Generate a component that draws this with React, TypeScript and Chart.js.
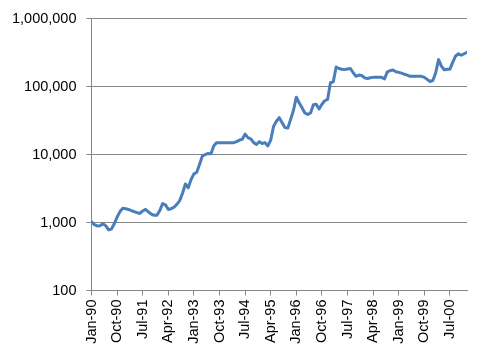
import React, { useEffect, useRef } from "react";
import { Chart, registerables } from "chart.js";

Chart.register(...registerables);

const MONTHS = ["Jan", "Feb", "Mar", "Apr", "May", "Jun", "Jul", "Aug", "Sep", "Oct", "Nov", "Dec"];
const START_YEAR = 1990;

const values: number[] = [
  1030, 930, 890, 900, 960, 900, 780, 800, 960, 1200, 1450, 1620,
  1600, 1560, 1500, 1450, 1400, 1360, 1480, 1560, 1440, 1330, 1280, 1280,
  1500, 1900, 1820, 1560, 1600, 1680, 1850, 2100, 2700, 3700, 3250, 4300,
  5200, 5500, 7200, 9600, 10000, 10400, 10300, 13500, 15000, 15000, 15000, 15000,
  15000, 15000, 15000, 15500, 16300, 16800, 20000, 17800, 17000, 15000, 14100, 15500,
  14600, 15000, 13400, 16400, 26000, 31000, 35000, 29500, 25000, 24500, 33000, 45000,
  70000, 58000, 49000, 41000, 39000, 41000, 54000, 55000, 47000, 55000, 62000, 65000,
  114000, 118000, 195000, 185000, 180000, 178000, 182000, 185000, 160000, 142000, 148000, 146000,
  135000, 132000, 135000, 137000, 137000, 137000, 137000, 130000, 165000, 172000, 176000, 166000,
  162000, 158000, 152000, 148000, 142000, 142000, 142000, 142000, 142000, 137000, 128000, 119000,
  123000, 160000, 250000, 200000, 177000, 180000, 181000, 230000, 283000, 305000, 290000, 305000,
  320000,
];

const yTicks: number[] = [100, 1000, 10000, 100000, 1000000];
const TICK_EVERY = 9;

const categories: string[] = values.map((_, i) => {
  const m = i % 12;
  const y = (START_YEAR + Math.floor(i / 12)) % 100;
  return `${MONTHS[m]}-${String(y).padStart(2, "0")}`;
});

const xTickIndices: number[] = categories
  .map((_, i) => i)
  .filter((i) => i % TICK_EVERY === 0);

const FONT = { family: "'Liberation Sans', Arial, sans-serif", size: 14.5 };
const GRID = "#878787";

export default function App() {
  const ref = useRef<HTMLCanvasElement | null>(null);

  useEffect(() => {
    if (!ref.current) return;
    const chart = new Chart(ref.current, {
      type: "line",
      data: {
        datasets: [
          {
            data: values.map((v, i) => ({ x: i, y: v })),
            borderColor: "#4A7EBB",
            borderWidth: 3,
            pointRadius: 0,
            tension: 0,
            fill: false,
            borderJoinStyle: "round",
            borderCapStyle: "round",
          },
        ],
      },
      options: {
        responsive: false,
        animation: false,
        events: [],
        layout: { padding: { top: 16.5, right: 17, left: 0, bottom: 0 } },
        plugins: { legend: { display: false }, tooltip: { enabled: false } },
        scales: {
          x: {
            type: "linear",
            min: 0,
            max: values.length - 1,
            afterBuildTicks: (scale: any) => {
              scale.ticks = xTickIndices.map((v) => ({ value: v }));
            },
            afterFit: (scale: any) => {
              scale.height = 64.5;
            },
            ticks: {
              autoSkip: false,
              maxRotation: 90,
              minRotation: 90,
              padding: 4,
              color: "#000",
              font: FONT,
              callback: (v: any) => categories[Math.round(Number(v))] ?? "",
            },
            grid: {
              display: true,
              drawOnChartArea: false,
              drawTicks: true,
              tickLength: 5,
              color: GRID,
            },
            border: { display: true, color: GRID, width: 1 },
          },
          y: {
            type: "logarithmic",
            min: 100,
            max: 1000000,
            afterBuildTicks: (scale: any) => {
              scale.ticks = yTicks.map((v) => ({ value: v }));
            },
            afterFit: (scale: any) => {
              scale.width = 91.5;
            },
            ticks: {
              padding: 10,
              color: "#000",
              font: FONT,
              callback: (v: any) => Number(v).toLocaleString("en-US"),
            },
            grid: {
              color: GRID,
              tickLength: 5,
            },
            border: { display: true, color: GRID, width: 1 },
          },
        },
      },
    });
    return () => chart.destroy();
  }, []);

  return (
    <div style={{ position: "absolute", left: 0, top: 0, width: 484, height: 355, background: "#fff" }}>
      <canvas ref={ref} width={484} height={355} />
    </div>
  );
}
